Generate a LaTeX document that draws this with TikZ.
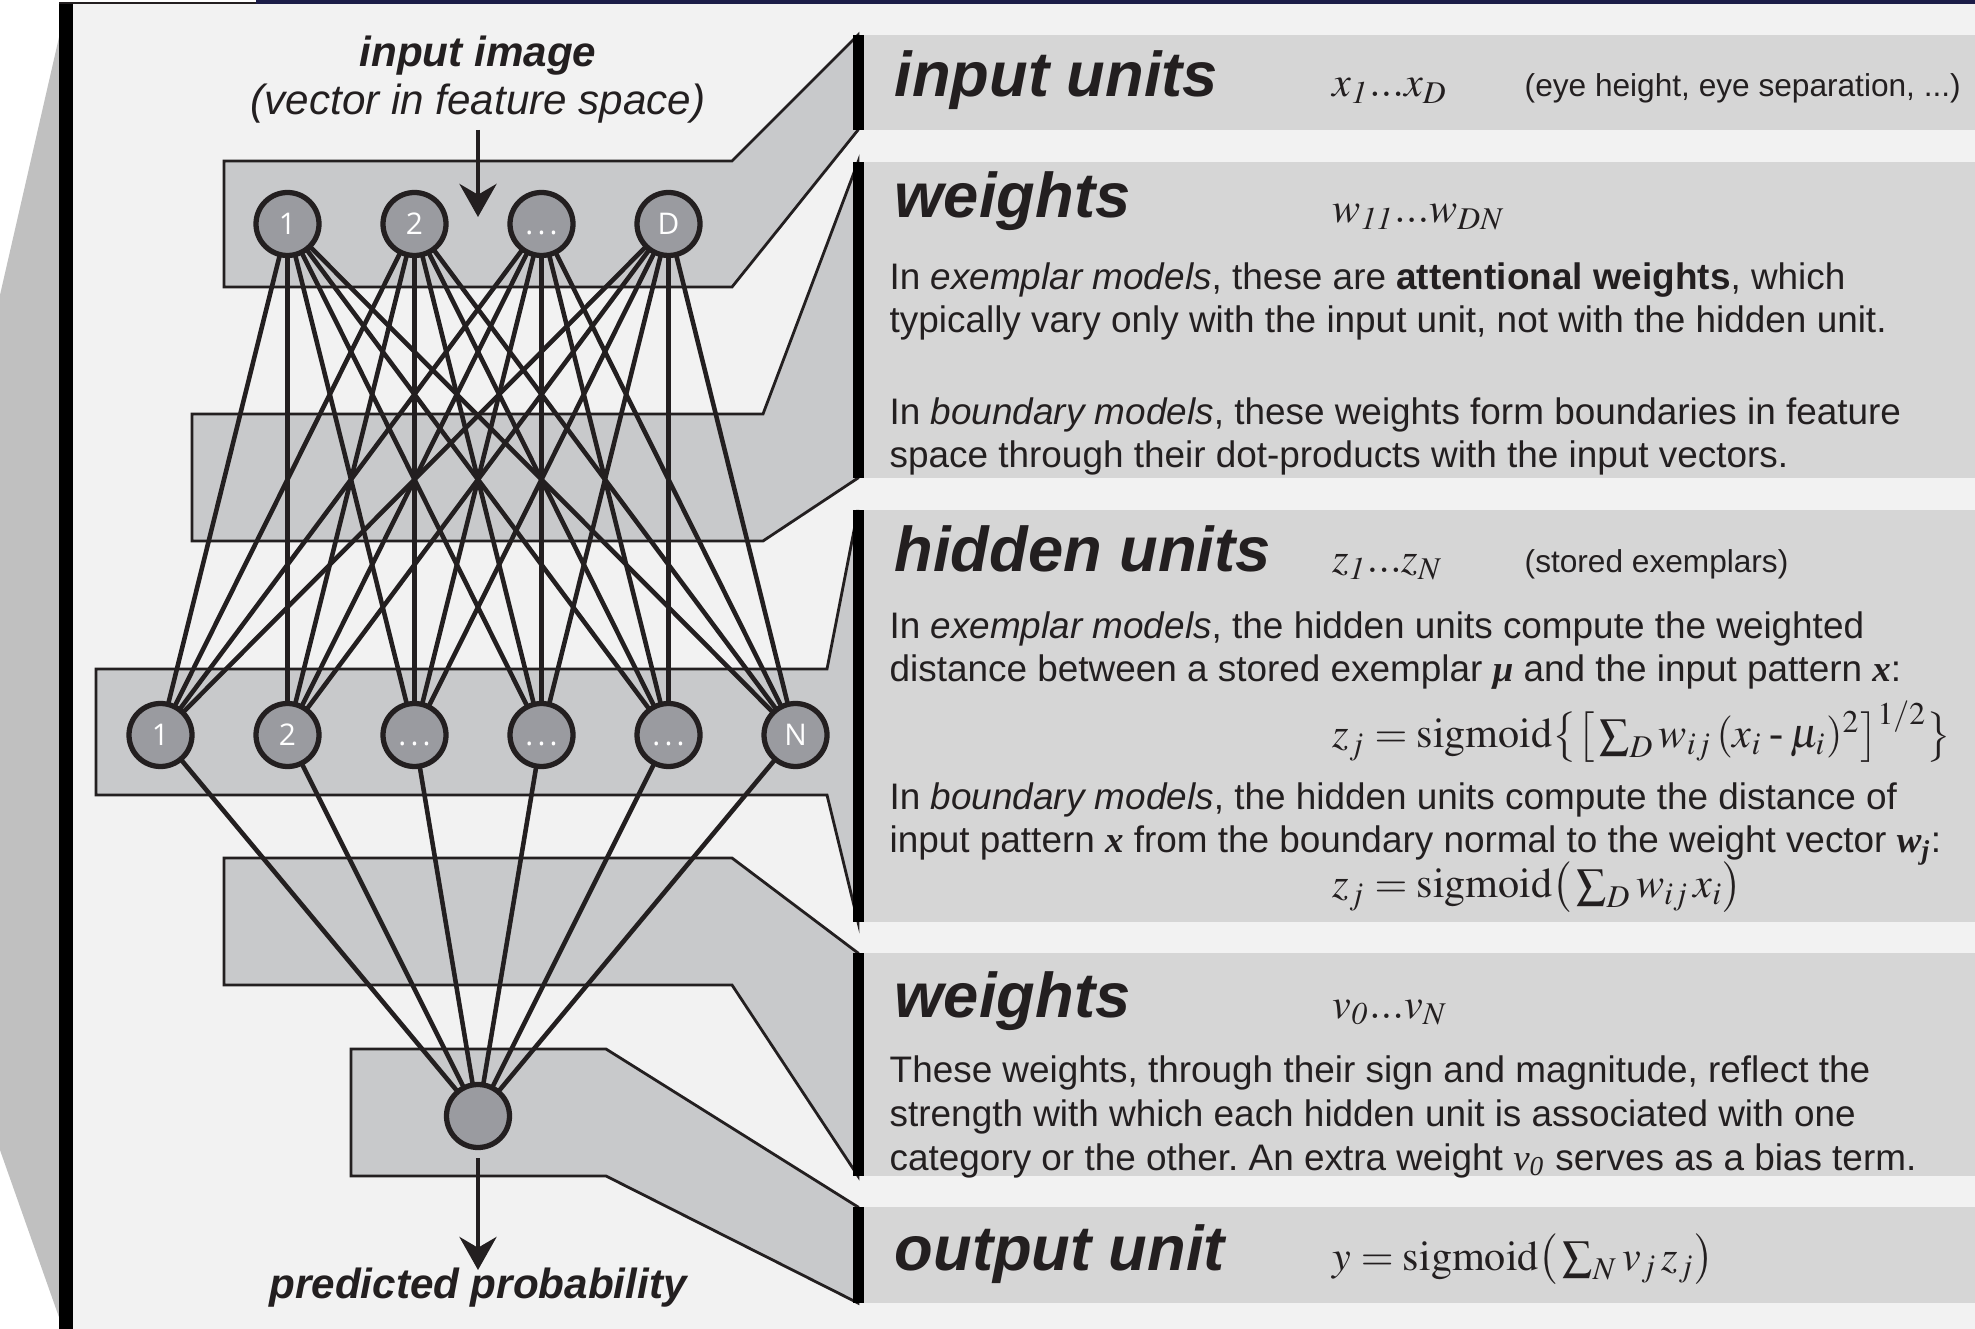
\documentclass[tikz,border=0pt]{standalone}
\usepackage{mathptmx}
\usepackage[no-math]{fontspec}
\setmainfont{Liberation Sans}
\newfontfamily\tmsfont{Liberation Serif}
\newfontfamily\unitfont{Open Sans}
\usetikzlibrary{arrows.meta}
\pgfdeclarelayer{bg}
\pgfdeclarelayer{edges}
\pgfsetlayers{bg,edges,main}
\definecolor{sheet}{HTML}{F2F2F2}
\definecolor{wedgegray}{HTML}{C0C0C0}
\definecolor{panelgray}{HTML}{D6D6D6}
\definecolor{boxfill}{HTML}{C8C9CB}
\definecolor{unitfill}{HTML}{9A9BA0}
\definecolor{linecol}{HTML}{231F20}
\definecolor{navy}{HTML}{1C1D48}
\newcommand{\unitdots}{\vphantom{1}.\kern1.2pt.\kern1.2pt.}
\newcommand{\bvar}[1]{{\tmsfont\bfseries\itshape #1}}

\begin{document}
\begin{tikzpicture}[x=1cm,y=-1cm,
  unit/.style={circle,draw=linecol,line width=1.5pt,fill=unitfill,minimum size=0.63cm,inner sep=0pt,text=white,font=\unitfont\fontsize{8.5}{10}\selectfont},
  layerbox/.style={fill=boxfill,draw=linecol,line width=0.8pt},
  link/.style={draw=linecol,line width=1.3pt},
  flow/.style={draw=linecol,line width=1.3pt,-{Stealth[length=3.3mm,width=3.7mm]}},
  netlabel/.style={anchor=base,inner sep=0pt,text=linecol,font=\fontsize{12}{14}\selectfont\itshape},
  panelhead/.style={anchor=base west,inner sep=0pt,text=linecol,font=\fontsize{18}{20}\selectfont\bfseries\itshape},
  panelmath/.style={anchor=base west,inner sep=0pt,text=linecol,font=\fontsize{12}{14}\selectfont},
  panelnote/.style={anchor=base west,inner sep=0pt,text=linecol,font=\fontsize{9}{11}\selectfont},
  paneltext/.style={anchor=base west,inner sep=0pt,align=left,text=linecol,font=\fontsize{10.5}{12.5}\selectfont}]
\useasboundingbox (0,0) rectangle (19.75,13.29);
\begin{pgfonlayer}{bg}
\fill[white] (0,0) rectangle (19.75,13.29);
\fill[wedgegray] (0.60,0.33) -- (0,2.95) -- (0,11.50) -- (0.60,13.20) -- cycle;
\fill[sheet] (0.72,0.03) rectangle (19.75,13.29);
\fill[black] (0.59,0.03) rectangle (0.73,13.29);
\fill[navy] (2.56,0) rectangle (19.75,0.04);
\draw[linecol,line width=0.3pt] (0.59,0.03) -- (2.56,0.03);
\fill[panelgray] (8.58,0.35) rectangle (19.75,1.30);
\fill[panelgray] (8.58,1.62) rectangle (19.75,4.78);
\fill[panelgray] (8.58,5.10) rectangle (19.75,9.22);
\fill[panelgray] (8.58,9.53) rectangle (19.75,11.76);
\fill[panelgray] (8.58,12.07) rectangle (19.75,13.03);
\filldraw[layerbox] (2.24,1.61) -- (7.32,1.61) -- (8.58,0.35) -- (8.58,1.30) -- (7.32,2.87) -- (2.24,2.87) -- cycle;
\filldraw[layerbox] (1.92,4.14) -- (7.63,4.14) -- (8.58,1.62) -- (8.58,4.78) -- (7.63,5.41) -- (1.92,5.41) -- cycle;
\filldraw[layerbox] (0.96,6.69) -- (8.27,6.69) -- (8.58,5.10) -- (8.58,9.22) -- (8.27,7.95) -- (0.96,7.95) -- cycle;
\filldraw[layerbox] (2.24,8.58) -- (7.32,8.58) -- (8.58,9.53) -- (8.58,11.76) -- (7.32,9.85) -- (2.24,9.85) -- cycle;
\filldraw[layerbox] (3.51,10.49) -- (6.06,10.49) -- (8.58,12.07) -- (8.58,13.03) -- (6.06,11.76) -- (3.51,11.76) -- cycle;
\fill[black] (8.53,0.35) rectangle (8.64,1.30);
\fill[black] (8.53,1.62) rectangle (8.64,4.78);
\fill[black] (8.53,5.10) rectangle (8.64,9.22);
\fill[black] (8.53,9.53) rectangle (8.64,11.76);
\fill[black] (8.53,12.07) rectangle (8.64,13.03);
\end{pgfonlayer}

\foreach \i/\lab in {1/1,2/2,3/\unitdots,4/D}
  \node[unit] (in\i) at ({1.605+1.27*\i},2.24) {\lab};
\foreach \i/\lab in {1/1,2/2,3/\unitdots,4/\unitdots,5/\unitdots,6/N}
  \node[unit] (hid\i) at ({0.335+1.27*\i},7.35) {\lab};
\node[unit] (out) at (4.78,11.16) {};

\begin{pgfonlayer}{edges}
\foreach \i in {1,...,4}
  \foreach \j in {1,...,6}
    \draw[link] (in\i.center) -- (hid\j.center);
\foreach \j in {1,...,6}
  \draw[link] (hid\j.center) -- (out.center);
\end{pgfonlayer}

\node[netlabel,font=\fontsize{12}{14}\selectfont\bfseries\itshape] (imglabel) at (4.78,0.67) {input image};
\node[netlabel] (vecnote) at (4.78,1.15) {(vector in feature space)};
\coordinate (imgsrc) at (4.78,1.30);
\coordinate (imgtip) at (4.78,2.17);
\draw[flow] (imgsrc) -- (imgtip);
\coordinate (probtip) at (4.78,12.70);
\draw[flow,shorten <=0.8mm] (out) -- (probtip);
\node[netlabel,font=\fontsize{12}{14}\selectfont\bfseries\itshape] (problabel) at (4.78,12.98) {predicted probability};

\node[panelhead] (inhead) at (8.94,0.97) {input units};
\node[panelmath] (inmath) at (13.32,0.97) {$x_{\mathit{1}}...x_D$};
\node[panelnote] (innote) at (15.24,0.97) {(eye height, eye separation, ...)};

\node[panelhead] (w1head) at (8.94,2.18) {weights};
\node[panelmath] (w1math) at (13.32,2.23) {$w_{\mathit{11}}...w_{DN}$};
\node[paneltext] (w1texta) at (8.89,3.33) {In \textit{exemplar models}, these are \textbf{attentional weights}, which\\typically vary only with the input unit, not with the hidden unit.};
\node[paneltext] (w1textb) at (8.89,4.68) {In \textit{boundary models}, these weights form boundaries in feature\\space through their dot-products with the input vectors.};

\node[panelhead] (hidhead) at (8.94,5.72) {hidden units};
\node[panelmath] (hidmath) at (13.32,5.73) {$z_{\mathit{1}}...z_N$};
\node[panelnote] (hidnote) at (15.24,5.73) {(stored exemplars)};
\node[paneltext] (hidtexta) at (8.89,6.82) {In \textit{exemplar models}, the hidden units compute the weighted\\distance between a stored exemplar \bvar{μ} and the input pattern \bvar{x}:};
\node[panelmath] (hidform1) at (13.32,7.48) {$z_j = \mathrm{sigmoid}\big\{\big[\sum_D w_{ij}\,(x_i\mbox{\tmsfont\,-\,}\mu_i)^2\big]^{1/2}\big\}$};
\node[paneltext] (hidtextb) at (8.89,8.53) {In \textit{boundary models}, the hidden units compute the distance of\\input pattern \bvar{x} from the boundary normal to the weight vector \bvar{w\textsubscript{j}}:};
\node[panelmath] (hidform2) at (13.32,8.98) {$z_j = \mathrm{sigmoid}\big(\sum_D w_{ij}\,x_i\big)$};

\node[panelhead] (w2head) at (8.94,10.17) {weights};
\node[panelmath] (w2math) at (13.32,10.18) {$v_{\mathit{0}}...v_N$};
\node[paneltext] (w2text) at (8.89,11.70) {These weights, through their sign and magnitude, reflect the\\strength with which each hidden unit is associated with one\\category or the other.\ An extra weight {\tmsfont\itshape v\textsubscript{0}} serves as a bias term.};

\node[panelhead] (outhead) at (8.94,12.70) {output unit};
\node[panelmath] (outform) at (13.32,12.70) {$y = \mathrm{sigmoid}\big(\sum_N v_j\,z_j\big)$};
\end{tikzpicture}
\end{document}
